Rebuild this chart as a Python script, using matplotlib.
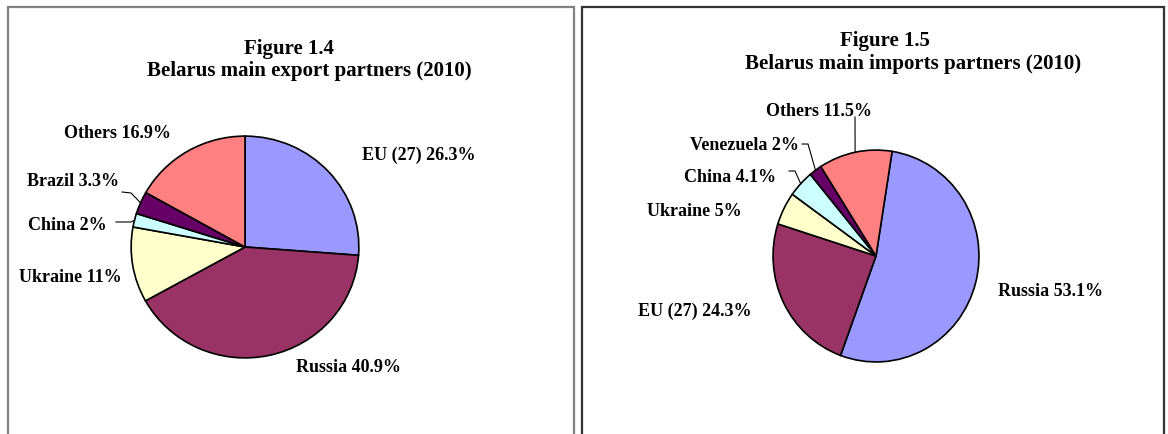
import matplotlib.pyplot as plt
from matplotlib.lines import Line2D
from matplotlib.patches import Rectangle
import numpy as np

plt.rcParams['font.family'] = ['Liberation Serif', 'DejaVu Serif']
plt.rcParams['font.weight'] = 'bold'

# Figure 1.4 - exports
exp_names = ['EU (27)', 'Russia', 'Ukraine', 'China', 'Brazil', 'Others']
exp_share = [26.3, 40.9, 11, 2, 3.3, 16.9]
exp_colors = ['#9999FF', '#993366', '#FFFFCC', '#CCFFFF', '#660066', '#FF8080']

# Figure 1.5 - imports
imp_names = ['Russia', 'EU (27)', 'Ukraine', 'China', 'Venezuela', 'Others']
imp_share = [53.1, 24.3, 5, 4.1, 2, 11.5]
imp_colors = ['#9999FF', '#993366', '#FFFFCC', '#CCFFFF', '#660066', '#FF8080']

W, H = 1168, 434
fig = plt.figure(figsize=(W / 100, H / 100), dpi=100)


def px(x, y):
    # pixel position (top-left origin) -> figure fraction
    return x / W, 1 - y / H


def pie_axes(cx, cy, rx, ry):
    x0, y0 = px(cx - rx, cy + ry)
    ax = fig.add_axes([x0, y0, 2 * rx / W, 2 * ry / H])
    return ax


def label(text, x, y, size=13):
    fig.text(*px(x, y), text, ha='center', va='center', fontsize=size,
             fontweight='bold')


def edge_px(ax, wedge):
    mid = np.deg2rad((wedge.theta1 + wedge.theta2) / 2)
    p = ax.transData.transform((np.cos(mid), np.sin(mid)))
    return p[0], H - p[1]


def leader(points):
    xs = [p[0] / W for p in points]
    ys = [1 - p[1] / H for p in points]
    fig.add_artist(Line2D(xs, ys, color='black', lw=0.8,
                          transform=fig.transFigure))


def draw_pie(ax, share, colors, start):
    wedges, _ = ax.pie(share, colors=colors, startangle=start,
                       counterclock=False,
                       wedgeprops=dict(edgecolor='black', linewidth=1.2))
    ax.set_aspect('auto')
    ax.set_xlim(-1.01, 1.01)
    ax.set_ylim(-1.01, 1.01)
    return wedges


# panel frames
fig.add_artist(Rectangle(px(8, 440), 566 / W, 433 / H, fill=False,
                         edgecolor='#808080', lw=1.6,
                         transform=fig.transFigure))
fig.add_artist(Rectangle(px(582, 440), 582 / W, 433 / H, fill=False,
                         edgecolor='#333333', lw=1.6,
                         transform=fig.transFigure))

# left chart
ax1 = pie_axes(245, 247, 115, 112)
w1 = draw_pie(ax1, exp_share, exp_colors, 90)
label('Figure 1.4', 289, 49, 15)
label('Belarus main export partners (2010)', 309, 71, 15)
label('EU (27) 26.3%', 419, 155)
label('Russia 40.9%', 348, 368)
label('Ukraine 11%', 70, 277)
label('China 2%', 67, 226)
label('Brazil 3.3%', 73, 181)
label('Others 16.9%', 118, 134)

bx, by = edge_px(ax1, w1[4])
leader([(122, 192), (131, 193), (bx, by)])
cx, cy = edge_px(ax1, w1[3])
leader([(116, 222), (131, 222), (cx, cy)])

# right chart
ax2 = pie_axes(876, 256, 104, 107)
w2 = draw_pie(ax2, imp_share, imp_colors, 81)
label('Figure 1.5', 885, 41, 15)
label('Belarus main imports partners (2010)', 913, 64, 15)
label('Russia 53.1%', 1051, 291)
label('EU (27) 24.3%', 695, 311)
label('Ukraine 5%', 694, 212)
label('China 4.1%', 730, 177)
label('Venezuela 2%', 744, 146)
label('Others 11.5%', 819, 112)

vx, vy = edge_px(ax2, w2[4])
leader([(802, 144), (808, 144), (vx, vy)])
cx, cy = edge_px(ax2, w2[3])
leader([(789, 171), (795, 171), (cx, cy)])
ox, oy = edge_px(ax2, w2[5])
leader([(855, 117), (ox, oy)])

fig.savefig('out.png', dpi=100, facecolor='white')
